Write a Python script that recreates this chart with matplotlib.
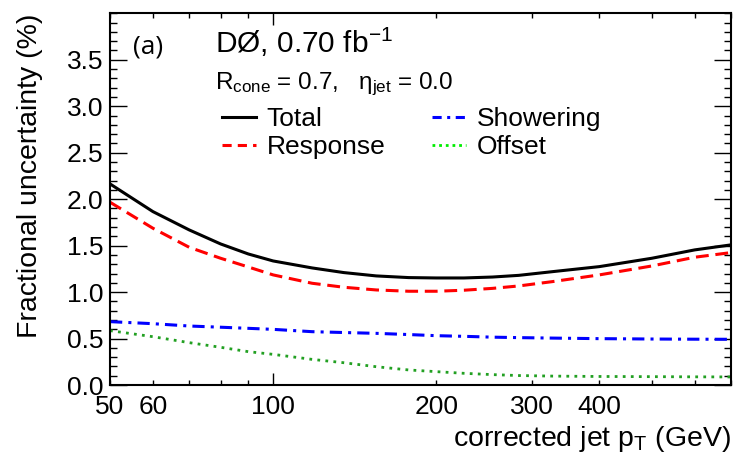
import matplotlib
matplotlib.use("Agg")
import matplotlib.pyplot as plt
from matplotlib.lines import Line2D
from matplotlib.ticker import MultipleLocator

plt.rcParams['font.family'] = ['Liberation Sans', 'DejaVu Sans']
plt.rcParams['mathtext.fontset'] = 'custom'
plt.rcParams['mathtext.rm'] = 'Liberation Sans'
plt.rcParams['mathtext.it'] = 'Liberation Sans:italic'

# values (pT in GeV, uncertainty in %)
pt = [50, 60, 70, 80, 90, 100, 118, 135, 155, 178, 200, 225, 254, 284, 328,
      400, 500, 600, 700]
total = [2.164, 1.866, 1.669, 1.518, 1.41, 1.335, 1.26, 1.21, 1.174, 1.156,
         1.152, 1.152, 1.162, 1.18, 1.22, 1.274, 1.364, 1.454, 1.508]
response = [1.967, 1.687, 1.482, 1.364, 1.27, 1.185, 1.095, 1.052, 1.023, 1.009,
            1.009, 1.02, 1.04, 1.066, 1.113, 1.185, 1.281, 1.375, 1.425]
showering = [0.682, 0.66, 0.635, 0.622, 0.61, 0.599, 0.574, 0.565, 0.556, 0.543,
             0.531, 0.524, 0.515, 0.51, 0.505, 0.499, 0.495, 0.493, 0.492]
offset = [0.585, 0.52, 0.456, 0.406, 0.359, 0.33, 0.276, 0.24, 0.197, 0.162,
          0.144, 0.126, 0.112, 0.102, 0.096, 0.092, 0.09, 0.088, 0.087]

fig = plt.figure(figsize=(7.34, 4.55), dpi=100)
ax = fig.add_axes([0.1499, 0.1538, 0.8460, 0.8170])

ax.plot(pt, total, color='black', lw=2.2)
ax.plot(pt, response, color='#ff0000', lw=2.2, dashes=(4.2, 2.2))
ax.plot(pt, showering, color='#0000ff', lw=2.2, dashes=(4, 2, 1, 2))
ax.plot(pt, offset, color='#22a022', lw=2.0, dashes=(1, 1.9))

ax.set_xscale('log')
ax.set_xlim(50, 700)
ax.set_ylim(0, 4.0)

ax.set_xticks([100], labels=['100'])
minor_x = [50, 60, 70, 80, 90, 200, 300, 400, 500, 600, 700]
minor_lab = ['50', '60', '', '', '', '200', '300', '400', '', '', '']
ax.set_xticks(minor_x, labels=minor_lab, minor=True)

ax.set_yticks([0.0, 0.5, 1.0, 1.5, 2.0, 2.5, 3.0, 3.5])
ax.set_yticklabels(['0.0', '0.5', '1.0', '1.5', '2.0', '2.5', '3.0', '3.5'])
ax.yaxis.set_minor_locator(MultipleLocator(0.1))

ax.tick_params(axis='x', which='major', direction='in', length=8.6, width=1.0,
               top=True, labelsize=19, pad=7)
ax.tick_params(axis='x', which='minor', direction='in', length=3.6, width=1.0,
               top=True, labelsize=19, pad=7)
ax.tick_params(axis='y', which='major', direction='in', length=12, width=1.0,
               right=True, labelsize=19, pad=5)
ax.tick_params(axis='y', which='minor', direction='in', length=5, width=1.0,
               right=True)
for s in ax.spines.values():
    s.set_linewidth(1.5)

ax.set_ylabel('Fractional uncertainty (%)', fontsize=20.5, loc='top', labelpad=17)
ax.set_xlabel('corrected jet p$_{\\rm T}$ (GeV)', fontsize=20.5, loc='right',
              labelpad=4)

ax.text(0.037, 0.909, '(a)', transform=ax.transAxes, fontsize=19, va='center',
        family=['Open Sans', 'DejaVu Sans'])
ax.text(0.169, 0.893, 'DØ, 0.70 fb$^{-1}$', transform=ax.transAxes, fontsize=21.5,
        va='baseline')
ax.text(0.169, 0.797, 'R$_{\\rm cone}$ = 0.7,   η$_{\\rm jet}$ = 0.0',
        transform=ax.transAxes, fontsize=17.5, va='baseline')

handles = [
    Line2D([], [], color='black', lw=2.2),
    Line2D([], [], color='#ff0000', lw=2.2, dashes=(3, 2)),
    Line2D([], [], color='#0000ff', lw=2.2, dashes=(3, 1.8, 1, 1.8)),
    Line2D([], [], color='#00ee00', lw=2.0, dashes=(1, 1.4)),
]
labels = ['Total', 'Response', 'Showering', 'Offset']
ax.legend(handles, labels, ncol=2, loc='upper left', bbox_to_anchor=(0.180, 0.747),
          frameon=False, fontsize=19, borderpad=0, borderaxespad=0,
          handlelength=1.3, handletextpad=0.4, columnspacing=1.75,
          labelspacing=0.15)

fig.savefig('out.png', dpi=100)
